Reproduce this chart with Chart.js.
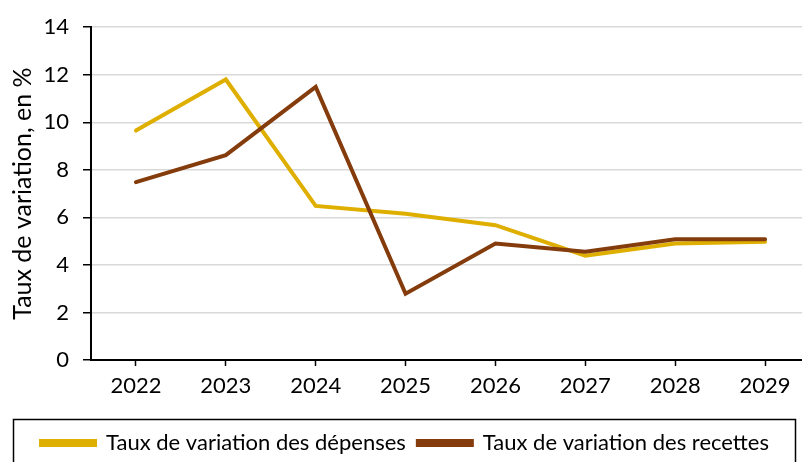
<!DOCTYPE html>
<html>
<head>
<meta charset="utf-8">
<script src="https://cdn.jsdelivr.net/npm/chart.js@4.4.1/dist/chart.umd.min.js"></script>
<style>
  html, body { margin: 0; padding: 0; overflow: hidden; background: #fff; }
  #wrap { width: 812px; height: 464px; }
</style>
</head>
<body>
<div id="wrap"><canvas id="line"></canvas></div>
<script>
const years = ['2022', '2023', '2024', '2025', '2026', '2027', '2028', '2029']
const depenses = [9.65, 11.8, 6.48, 6.15, 5.67, 4.39, 4.9, 4.97]
const recettes = [7.48, 8.62, 11.49, 2.79, 4.9, 4.55, 5.08, 5.08]
const yTicks = [0, 2, 4, 6, 8, 10, 12, 14]

const FONT = 'Lato, "Open Sans", sans-serif'

// draws the black frame around the legend, like the excel original
const legendFrame = {
  id: 'legendFrame',
  afterDraw(chart) {
    const lg = chart.legend
    const ctx = chart.ctx
    ctx.save()
    ctx.strokeStyle = '#000'
    ctx.lineWidth = 1.5
    ctx.strokeRect(13.5, Math.round(lg.top) - 0.5, 782, 80)
    ctx.restore()
  }
}

const lineConfig = {
  type: 'line',
  data: {
    labels: years,
    datasets: [
      {
        label: 'Taux de variation des dépenses',
        data: depenses,
        borderColor: '#DFAF00',
        backgroundColor: '#DFAF00',
        borderWidth: 4,
        borderCapStyle: 'round',
        pointRadius: 0,
        tension: 0,
        order: 1,
      },
      {
        label: 'Taux de variation des recettes',
        data: recettes,
        borderColor: '#843C0C',
        backgroundColor: '#843C0C',
        borderWidth: 4,
        borderCapStyle: 'round',
        pointRadius: 0,
        tension: 0,
        order: 0,
      },
    ],
  },
  options: {
    responsive: true,
    maintainAspectRatio: false,
    animation: false,
    layout: { padding: { top: 21, right: 2, left: 0, bottom: 0 } },
    plugins: {
      tooltip: { enabled: false },
      legend: {
        position: 'bottom',
        labels: {
          boxWidth: 54,
          boxHeight: 4,
          padding: 12,
          color: '#000',
          font: { family: FONT, size: 22 },
          sort: (a, b) => a.datasetIndex - b.datasetIndex,
        },
      },
    },
    scales: {
      x: {
        offset: true,
        grid: { offset: false, drawOnChartArea: false, tickLength: 6, tickColor: '#000', tickWidth: 1.5 },
        border: { color: '#000', width: 2 },
        ticks: { color: '#000', padding: 7, font: { family: FONT, size: 22 } },
        afterFit(scale) { scale.height = 60 },
      },
      y: {
        min: 0,
        max: 14,
        afterBuildTicks(scale) { scale.ticks = yTicks.map(v => ({ value: v })) },
        grid: { color: '#D9D9D9', lineWidth: 1.5, tickLength: 8, tickColor: '#000', tickWidth: 1.5 },
        border: { color: '#000', width: 2 },
        ticks: { color: '#000', padding: 14, font: { family: FONT, size: 22 } },
        title: {
          display: true,
          text: 'Taux de variation, en %',
          color: '#000',
          padding: { top: 8, bottom: 0 },
          font: { family: FONT, size: 25 },
        },
        afterFit(scale) { scale.width = 91 },
      },
    },
  },
  plugins: [legendFrame],
}

const lineCtx = document.getElementById('line')
window.myLine = new Chart(lineCtx, lineConfig)
</script>
</body>
</html>
